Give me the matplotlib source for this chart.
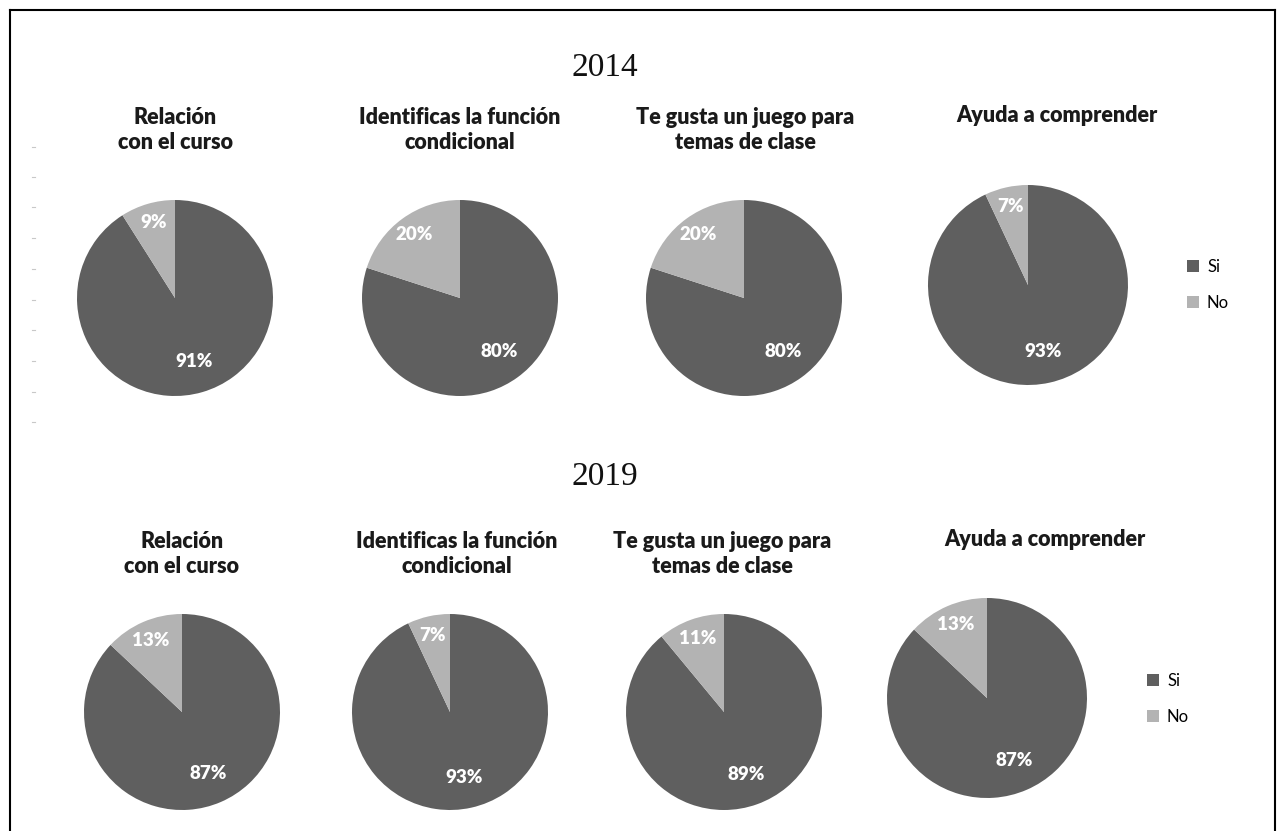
import matplotlib
matplotlib.use("Agg")
import matplotlib.pyplot as plt
from matplotlib.lines import Line2D
from matplotlib.patches import Patch
import numpy as np

W, H = 1277, 831

years = ["2014", "2019"]
questions = ["Relación\ncon el curso", "Identificas la función\ncondicional",
             "Te gusta un juego para\ntemas de clase", "Ayuda a comprender"]
categories = ["Si", "No"]
si_2014 = [91, 80, 80, 93]
no_2014 = [9, 20, 20, 7]
si_2019 = [87, 93, 89, 87]
no_2019 = [13, 7, 11, 13]

colors = ["#5f5f5f", "#b3b3b3"]
font = ["Lato", "DejaVu Sans"]

fig = plt.figure(figsize=(W / 100, H / 100), dpi=100)

def px_axes(cx, cy, r):
    return fig.add_axes([(cx - r) / W, 1 - (cy + r) / H, 2 * r / W, 2 * r / H])

layout = {
    "2014": dict(title_y=68, centers=[(175, 298), (460, 298), (744, 298), (1028, 285)],
                 r=[98, 98, 98, 100], tx=[175, 460, 745, 1057], ty=130,
                 legend=(1172, 285)),
    "2019": dict(title_y=477, centers=[(182, 712), (450, 712), (724, 712), (987, 698)],
                 r=[98, 98, 98, 100], tx=[182, 457, 722, 1045], ty=554,
                 legend=(1132, 699)),
}
data = {"2014": (si_2014, no_2014), "2019": (si_2019, no_2019)}

for yr in years:
    L = layout[yr]
    si, no = data[yr]
    fig.text(605 / W, 1 - L["title_y"] / H, yr, ha="center", va="center",
             fontsize=24, family="Liberation Serif", color="#111111")
    for i, q in enumerate(questions):
        cx, cy = L["centers"][i]
        r = L["r"][i]
        ax = px_axes(cx, cy, r)
        vals = [si[i], no[i]]
        wedges, _ = ax.pie(vals, colors=colors, startangle=90, counterclock=False,
                           radius=1.0, wedgeprops=dict(linewidth=0))
        for w, v, d in zip(wedges, vals, [0.68, 0.8]):
            ang = np.deg2rad((w.theta1 + w.theta2) / 2)
            ax.text(d * np.cos(ang), d * np.sin(ang), f"{v}%", ha="center", va="center",
                    color="white", fontsize=13.5, fontweight="heavy", family=font)
        ax.set_xlim(-1, 1)
        ax.set_ylim(-1, 1)
        ax.set_aspect("equal")
        ax.axis("off")
        nlines = q.count("\n")
        fig.text(L["tx"][i] / W, 1 - (L["ty"] - (0 if nlines else 14)) / H, q,
                 ha="center", va="center", fontsize=15.5, fontweight="heavy",
                 family=font, color="#1a1a1a", linespacing=1.2)
    lx, ly = L["legend"]
    handles = [Patch(facecolor=c, edgecolor="none") for c in colors]
    fig.legend(handles, categories, loc="center left",
               bbox_to_anchor=(lx / W, 1 - ly / H), frameon=False,
               handlelength=0.7, handleheight=0.7, handletextpad=0.5,
               labelspacing=1.2, prop=dict(family=font, size=12))

# frame lines
fig.add_artist(Line2D([10 / W, 10 / W], [0, 1 - 10 / H], color="black", lw=1.5))
fig.add_artist(Line2D([10 / W, 1275 / W], [1 - 10 / H, 1 - 10 / H], color="black", lw=1.5))
fig.add_artist(Line2D([1275 / W, 1275 / W], [0, 1 - 10 / H], color="black", lw=1.5))

# faint scan dashes on the left
for yy in [147, 177, 207, 238, 269, 300, 330, 361, 392, 422]:
    fig.add_artist(Line2D([32 / W, 35 / W], [1 - yy / H, 1 - yy / H], color="#c8c8c8", lw=0.8))

fig.savefig("out.png", dpi=100, facecolor="white")
